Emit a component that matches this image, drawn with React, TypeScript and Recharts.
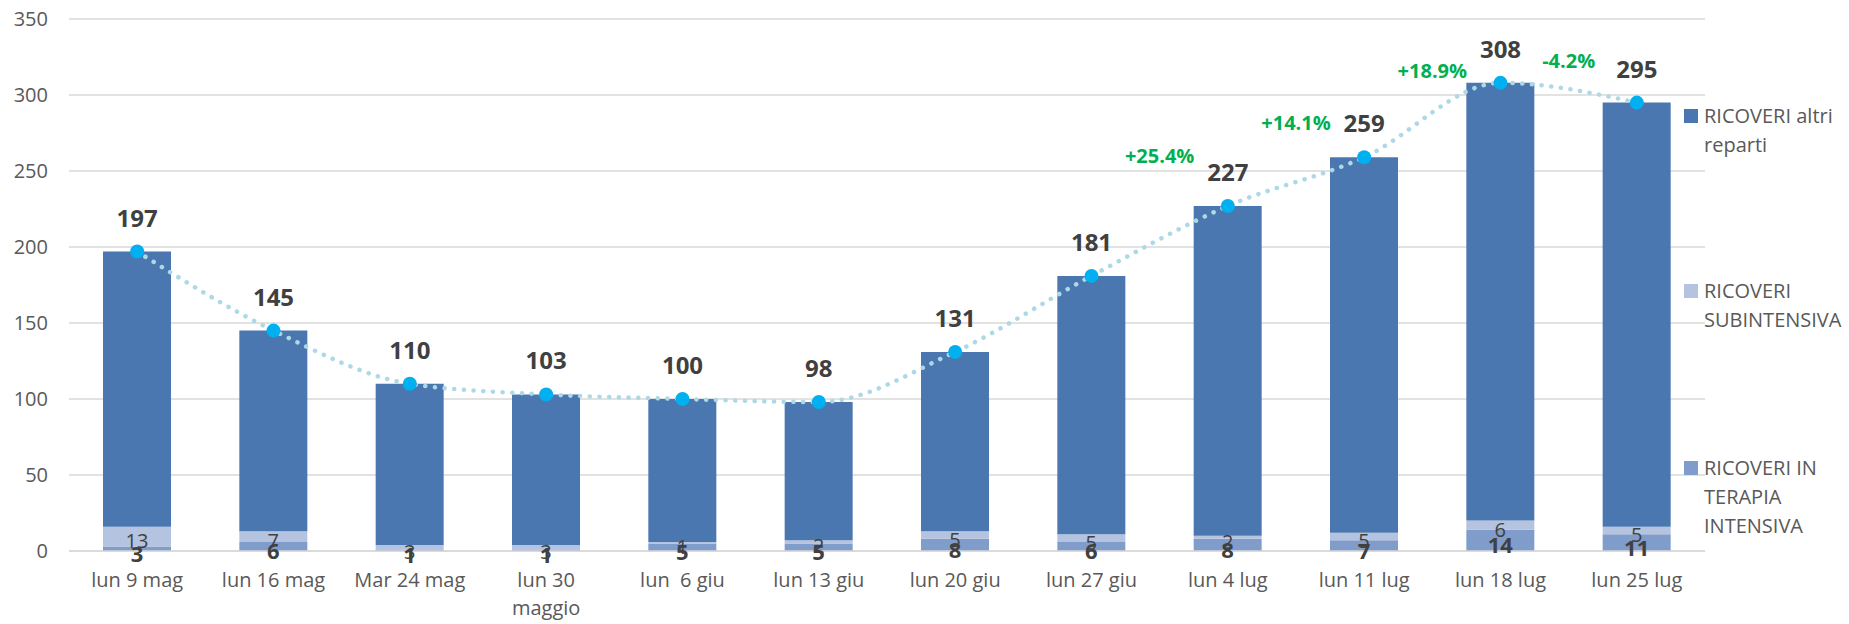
import { Bar, CartesianGrid, ComposedChart, LabelList, Line, XAxis, YAxis } from "recharts";

const categorie = [
    "lun 9 mag",
    "lun 16 mag",
    "Mar 24 mag",
    "lun 30 maggio",
    "lun  6 giu",
    "lun 13 giu",
    "lun 20 giu",
    "lun 27 giu",
    "lun 4 lug",
    "lun 11 lug",
    "lun 18 lug",
    "lun 25 lug",
];
const terapiaIntensiva = [3, 6, 1, 1, 5, 5, 8, 6, 8, 7, 14, 11];
const subintensiva = [13, 7, 3, 3, 1, 2, 5, 5, 2, 5, 6, 5];
const altriReparti = [181, 132, 106, 99, 94, 91, 118, 170, 217, 247, 288, 279];
const totali = [197, 145, 110, 103, 100, 98, 131, 181, 227, 259, 308, 295];
const variazioni = ["", "", "", "", "", "", "", "", "+25.4%", "+14.1%", "+18.9%", "-4.2%"];
const yTicks = [0, 50, 100, 150, 200, 250, 300, 350];

const FONT = "'Open Sans', sans-serif";
const BLU = "#4A77AF";
const SUB = "#B4C3DF";
const TI = "#7F9CCB";

// spostamento verticale (px) delle etichette di variazione rispetto al punto
const PCT_DY: Record<number, number> = { 8: -43, 9: -27, 10: -5, 11: -35 };

const data = categorie.map((nome, i) => ({
    nome,
    ti: terapiaIntensiva[i],
    sub: subintensiva[i],
    altri: altriReparti[i],
    totale: totali[i],
}));

const legenda = [
    { label: "RICOVERI altri reparti", color: BLU, top: 101 },
    { label: "RICOVERI SUBINTENSIVA", color: SUB, top: 276 },
    { label: "RICOVERI IN TERAPIA INTENSIVA", color: TI, top: 453 },
];

// etichetta asse x, va a capo se troppo lunga
const TickX = (props: any) => {
    const { x, y, payload } = props;
    const testo: string = payload.value;
    let righe = [testo];
    if (testo.length > 12) {
        const k = testo.lastIndexOf(" ");
        righe = [testo.slice(0, k), testo.slice(k + 1)];
    }
    return (
        <text x={x} y={y} textAnchor="middle" fill="#595959" fontSize={20} fontFamily={FONT} style={{ whiteSpace: "pre" }}>
            {righe.map((r, i) => (
                <tspan key={i} x={x} dy={i === 0 ? 14 : 28}>
                    {r}
                </tspan>
            ))}
        </text>
    );
};

const etichettaSegmento = (bold: boolean) => (props: any) => {
    const { x, y, width, height, value } = props;
    return (
        <text
            x={x + width / 2}
            y={y + height / 2 + 4}
            textAnchor="middle"
            dominantBaseline="central"
            fill="#404040"
            fontSize={bold ? 22 : 20}
            fontWeight={bold ? 700 : 400}
            fontFamily={FONT}
        >
            {value}
        </text>
    );
};

const Punto = (props: any) => {
    const { cx, cy, index, value, points } = props;
    const pct = variazioni[index];
    const prev = points && index > 0 ? points[index - 1] : null;
    return (
        <g key={"p" + index}>
            <circle cx={cx} cy={cy} r={7} fill="#00B0F0" />
            <text x={cx} y={cy - 25} textAnchor="middle" fill="#404040" fontSize={24} fontWeight={700} fontFamily={FONT}>
                {value}
            </text>
            {pct && prev ? (
                <text
                    x={(prev.x + cx) / 2}
                    y={cy + (PCT_DY[index] ?? -30)}
                    textAnchor="middle"
                    fill="#00B050"
                    fontSize={20}
                    fontWeight={700}
                    fontFamily={FONT}
                >
                    {pct}
                </text>
            ) : null}
        </g>
    );
};

export default function App() {
    return (
        <div style={{ position: "absolute", left: 0, top: 0, width: 1849, height: 624, background: "#fff", fontFamily: FONT }}>
            <ComposedChart width={1849} height={624} data={data} margin={{ top: 19, right: 144, bottom: 0, left: 0 }}>
                <CartesianGrid vertical={false} stroke="#D9D9D9" strokeWidth={1.5} />
                <XAxis dataKey="nome" interval={0} height={73} axisLine={{ stroke: "#D9D9D9", strokeWidth: 1.5 }} tickLine={false} tickMargin={16} tick={<TickX />} />
                <YAxis
                    width={69}
                    domain={[0, 350]}
                    ticks={yTicks}
                    axisLine={false}
                    tickLine={false}
                    tickMargin={15}
                    tick={{ fill: "#595959", fontSize: 20, fontFamily: FONT }}
                />
                <Bar dataKey="ti" stackId="a" fill={TI} barSize={68} isAnimationActive={false}>
                    <LabelList dataKey="ti" content={etichettaSegmento(true)} />
                </Bar>
                <Bar dataKey="sub" stackId="a" fill={SUB} barSize={68} isAnimationActive={false}>
                    <LabelList dataKey="sub" content={etichettaSegmento(false)} />
                </Bar>
                <Bar dataKey="altri" stackId="a" fill={BLU} barSize={68} isAnimationActive={false} />
                <Line
                    type="monotone"
                    dataKey="totale"
                    stroke="#ADD8E6"
                    strokeWidth={4.5}
                    strokeDasharray="0.1 9.6"
                    strokeLinecap="round"
                    dot={(p: any) => <Punto {...p} />}
                    activeDot={false}
                    isAnimationActive={false}
                />
            </ComposedChart>
            {legenda.map((l) => (
                <div key={l.label} style={{ position: "absolute", left: 1684, top: l.top, width: 165, display: "flex" }}>
                    <div style={{ width: 14, height: 14, background: l.color, marginTop: 8, flexShrink: 0 }} />
                    <div style={{ marginLeft: 6, width: 145, fontSize: 20, lineHeight: "29px", color: "#595959" }}>{l.label}</div>
                </div>
            ))}
        </div>
    );
}
